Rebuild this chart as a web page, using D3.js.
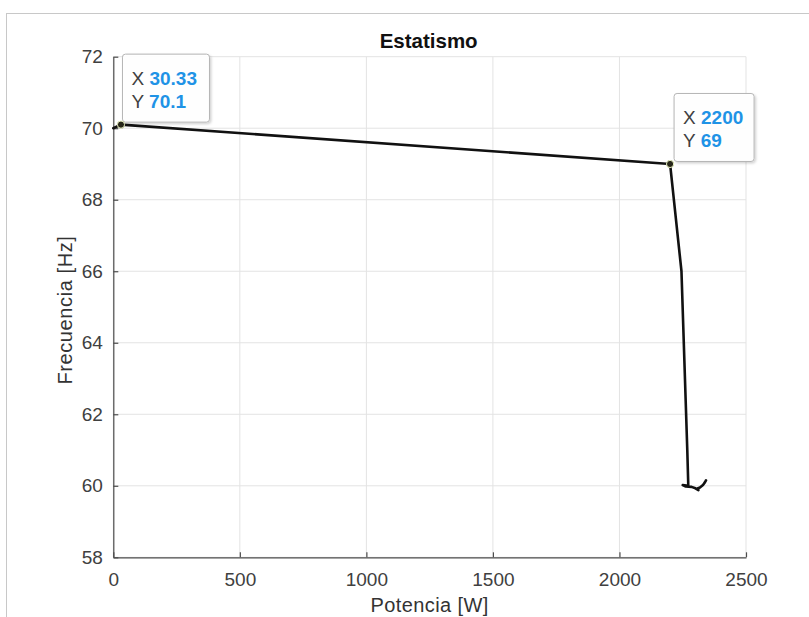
<!DOCTYPE html>
<html>
<head>
<meta charset="utf-8">
<script src="https://cdn.jsdelivr.net/npm/d3@7"></script>
<style>
  html, body { margin: 0; padding: 0; background: #fff; }
  svg { display: block; font-family: "Liberation Sans", Arial, Helvetica, sans-serif; }
</style>
</head>
<body>
<svg id="chart" width="809" height="617"></svg>
<script>
// Droop curve: active power vs. frequency
const power = [0, 30.33, 2200, 2245, 2268, 2272, 2250, 2262, 2285, 2300, 2312, 2305, 2318, 2330, 2338, 2342, 2333];
const freq  = [70.0, 70.1, 69, 66, 61.0, 60.0, 60.02, 59.98, 59.97, 59.93, 59.88, 59.92, 59.95, 60.02, 60.1, 60.15, 60.05];

const xTicks = [0, 500, 1000, 1500, 2000, 2500];
const yTicks = [58, 60, 62, 64, 66, 68, 70, 72];

// Highlighted data tips
const tipX = [30.33, 2200];
const tipY = [70.1, 69];
const tipXLabel = ["30.33", "2200"];
const tipYLabel = ["70.1", "69"];

const svg = d3.select("#chart");
const W = 809, H = 617;
const plot = { left: 113.3, right: 746, top: 56.7, bottom: 557.3 };
const FONT = "Liberation Sans, Arial, Helvetica, sans-serif";

// Figure frame
svg.append("rect")
  .attr("x", 6.5).attr("y", 13.5)
  .attr("width", W + 10).attr("height", H + 10)
  .attr("fill", "#fff").attr("stroke", "#c8c8c8").attr("stroke-width", 1);

const x = d3.scaleLinear().domain([0, 2500]).range([plot.left, plot.right]);
const y = d3.scaleLinear().domain([58, 72]).range([plot.bottom, plot.top]);

// Grid
const grid = svg.append("g").attr("stroke", "#e3e3e3").attr("stroke-width", 1);
xTicks.forEach(t => grid.append("line")
  .attr("x1", x(t)).attr("x2", x(t)).attr("y1", plot.top).attr("y2", plot.bottom));
yTicks.forEach(t => grid.append("line")
  .attr("x1", plot.left).attr("x2", plot.right).attr("y1", y(t)).attr("y2", y(t)));

// Axes (ticks point inward)
const xAxis = svg.append("g")
  .attr("transform", `translate(0,${plot.bottom})`)
  .call(d3.axisBottom(x).tickValues(xTicks).tickFormat(d3.format("d"))
    .tickSizeInner(-5).tickSizeOuter(0).tickPadding(15));
const yAxis = svg.append("g")
  .attr("transform", `translate(${plot.left},0)`)
  .call(d3.axisLeft(y).tickValues(yTicks).tickFormat(d3.format("d"))
    .tickSizeInner(-5).tickSizeOuter(0).tickPadding(10.5));

[xAxis, yAxis].forEach(a => {
  a.attr("font-size", null).attr("font-family", null);
  a.select(".domain").attr("stroke", "#4d4d4d").attr("stroke-width", 1.2);
  a.selectAll(".tick line").attr("stroke", "#4d4d4d").attr("stroke-width", 1.2);
  a.selectAll(".tick text").attr("fill", "#404040")
    .style("font-size", "19px").style("font-family", FONT);
});
xAxis.selectAll(".tick text").attr("dy", "0.71em");

// Title and axis labels
svg.append("text").attr("x", (plot.left + plot.right) / 2 - 1).attr("y", 48)
  .attr("text-anchor", "middle").style("font-size", "20.5px").attr("font-weight", "bold")
  .attr("fill", "#111").text("Estatismo");
svg.append("text").attr("x", (plot.left + plot.right) / 2).attr("y", 612)
  .attr("text-anchor", "middle").style("font-size", "20px").attr("fill", "#333")
  .attr("letter-spacing", 0.4)
  .text("Potencia [W]");
svg.append("text")
  .attr("transform", `translate(72,${310}) rotate(-90)`)
  .attr("text-anchor", "middle").style("font-size", "20px").attr("fill", "#333")
  .attr("letter-spacing", 0.6)
  .text("Frecuencia [Hz]");

// Data line
const pts = power.map((p, i) => [p, freq[i]]);
svg.append("path")
  .datum(pts)
  .attr("fill", "none").attr("stroke", "#111").attr("stroke-width", 2.6)
  .attr("stroke-linejoin", "round").attr("stroke-linecap", "round")
  .attr("d", d3.line().x(d => x(d[0])).y(d => y(d[1])));

// Data tips
const shadow = svg.append("defs").append("filter").attr("id", "tipShadow")
  .attr("x", "-20%").attr("y", "-20%").attr("width", "150%").attr("height", "150%");
shadow.append("feDropShadow").attr("dx", 1.5).attr("dy", 1.5).attr("stdDeviation", 1.2)
  .attr("flood-color", "#000").attr("flood-opacity", 0.18);

const tipW = [87, 80], tipH = [68, 68], tipDx = [1.5, 4];
tipX.forEach((tx, i) => {
  const px = x(tx), py = y(tipY[i]);
  const bx = px + tipDx[i], by = py - tipH[i] - 2.5;
  const g = svg.append("g");
  g.append("rect").attr("x", bx).attr("y", by).attr("width", tipW[i]).attr("height", tipH[i])
    .attr("rx", 3).attr("fill", "#fff").attr("fill-opacity", 0.95)
    .attr("stroke", "#b5b5b5").attr("stroke-width", 1).attr("filter", "url(#tipShadow)");
  const rows = [["X", tipXLabel[i]], ["Y", tipYLabel[i]]];
  rows.forEach((r, j) => {
    const t = g.append("text").attr("x", bx + 9).attr("y", by + 30.5 + j * 23.3)
      .style("font-size", "19px");
    t.append("tspan").attr("fill", "#404040").text(r[0] + " ");
    t.append("tspan").attr("fill", "#1f93e6").attr("font-weight", "bold").text(r[1]);
  });
  svg.append("circle").attr("cx", px).attr("cy", py).attr("r", 3.6)
    .attr("fill", "#262619").attr("stroke", "#e8f0c0").attr("stroke-width", 1);
});
</script>
</body>
</html>
